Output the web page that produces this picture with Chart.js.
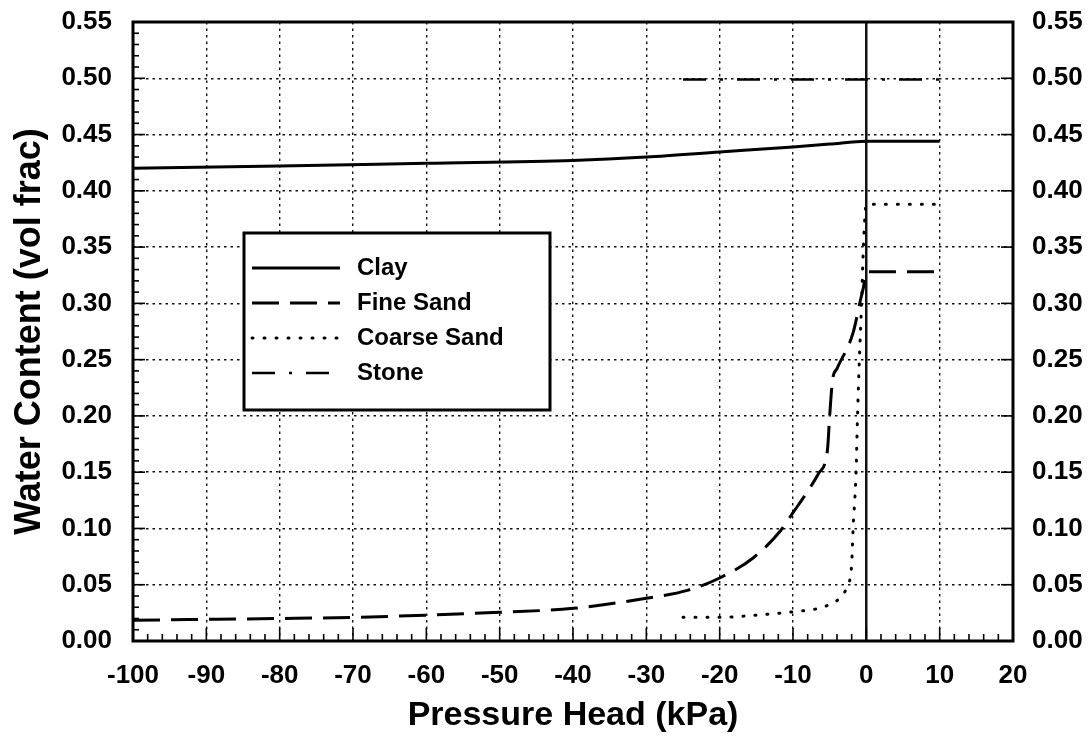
<!DOCTYPE html>
<html>
<head>
<meta charset="utf-8">
<script src="https://cdn.jsdelivr.net/npm/chart.js@4.4.1/dist/chart.umd.min.js"></script>
<style>
  html, body { margin: 0; padding: 0; background: #fff; }
  canvas { display: block; }
</style>
</head>
<body>
<canvas id="c" width="1092" height="746"></canvas>
<script>
// Axis tick values
const xTickValues = [-100, -90, -80, -70, -60, -50, -40, -30, -20, -10, 0, 10, 20];
const yTickValues = [0, 0.05, 0.10, 0.15, 0.20, 0.25, 0.30, 0.35, 0.40, 0.45, 0.50, 0.55];

// Retention curves: pressure head (kPa) vs water content (vol frac)
const clayHead  = [-100, -80, -60, -40, -30, -20, -10, -5, 0, 10];
const clayTheta = [0.420, 0.422, 0.4245, 0.427, 0.430, 0.4345, 0.439, 0.4415, 0.444, 0.444];

const fineHead  = [-100, -80, -70, -60, -50, -40, -30, -24.4, -20, -15.4, -11.7, -10, -7.6, -6.5, -5.3, -5.0, -4.6, -4.0, -1.8, -0.8, -0.4, 0, 10];
const fineTheta = [0.0185, 0.020, 0.021, 0.023, 0.0255, 0.029, 0.038, 0.045, 0.056, 0.074, 0.098, 0.114, 0.137, 0.149, 0.170, 0.200, 0.232, 0.242, 0.274, 0.303, 0.314, 0.328, 0.328];

const coarseHead  = [-25, -20, -15, -10, -6, -3.5, -2.6, -2.0, -1.8, -1.4, -1.2, -0.95, -0.65, -0.4, 0, 10];
const coarseTheta = [0.021, 0.021, 0.023, 0.026, 0.030, 0.039, 0.049, 0.068, 0.100, 0.150, 0.200, 0.250, 0.300, 0.350, 0.388, 0.388];

const stoneHead  = [-25, 0, 10];
const stoneTheta = [0.499, 0.499, 0.499];

const seriesLabels = ['Clay', 'Fine Sand', 'Coarse Sand', 'Stone'];

const toPoints = (xs, ys) => xs.map((x, i) => ({ x: x, y: ys[i] }));

Chart.defaults.font.family = "'Liberation Sans', Arial, Helvetica, sans-serif";
Chart.defaults.font.weight = 'bold';
Chart.defaults.color = '#000';

// Fixed scale boxes so the plot area sits at a set place
const fixBox = (w, h) => s => {
  if (w !== null) s.width = w;
  if (h !== null) s.height = h;
  s.paddingTop = 0; s.paddingBottom = 0; s.paddingLeft = 0; s.paddingRight = 0;
};

// Inward minor/major ticks, plot frame and boxed legend
const framePlugin = {
  id: 'frame',
  afterDatasetsDraw(chart) {
    const { ctx, chartArea: a, scales } = chart;
    const x = scales.x, y = scales.y, y2 = scales.y2;
    const seg = (x1, y1, x2, y2_) => { ctx.beginPath(); ctx.moveTo(x1, y1); ctx.lineTo(x2, y2_); ctx.stroke(); };
    ctx.save();
    ctx.strokeStyle = '#000';
    ctx.setLineDash([]);
    ctx.lineWidth = 1.6;
    for (let k = 0; k <= 55; k++) {
      const py = y.getPixelForValue(k / 100);
      seg(a.left, py, a.left + (k % 5 === 0 ? 12 : 6), py);
    }
    for (let v = -100; v <= 20; v += 2) {
      const px = x.getPixelForValue(v);
      seg(px, a.bottom, px, a.bottom - (v % 10 === 0 ? 13 : 7));
    }
    yTickValues.forEach(v => {
      const py = y2.getPixelForValue(v);
      seg(a.right - 12, py, a.right, py);
    });
    ctx.lineWidth = 3;
    ctx.strokeRect(a.left, a.top, a.right - a.left, a.bottom - a.top);

    // legend box
    const bx = a.left + 111, by = a.top + 211, bw = 306, bh = 177;
    ctx.fillStyle = '#fff';
    ctx.fillRect(bx, by, bw, bh);
    ctx.lineWidth = 3;
    ctx.strokeRect(bx, by, bw, bh);
    ctx.font = "bold 24px 'Liberation Sans', Arial, sans-serif";
    ctx.textBaseline = 'middle';
    ctx.textAlign = 'left';
    ctx.fillStyle = '#000';
    chart.data.datasets.forEach((ds, i) => {
      const ry = by + 35 + i * 35;
      ctx.save();
      ctx.strokeStyle = ds.borderColor;
      ctx.lineWidth = ds.borderWidth;
      ctx.lineCap = ds.borderCapStyle || 'butt';
      ctx.setLineDash(ds.borderDash || []);
      seg(bx + 8, ry, bx + 96, ry);
      ctx.restore();
      ctx.fillText(ds.label, bx + 113, ry);
    });
    ctx.restore();
  }
};

new Chart(document.getElementById('c'), {
  type: 'line',
  data: {
    datasets: [
      { label: seriesLabels[0], data: toPoints(clayHead, clayTheta), borderColor: '#000', borderWidth: 3,
        borderDash: [], cubicInterpolationMode: 'monotone' },
      { label: seriesLabels[1], data: toPoints(fineHead, fineTheta), borderColor: '#000', borderWidth: 3,
        borderDash: [27, 11], cubicInterpolationMode: 'monotone' },
      { label: seriesLabels[2], data: toPoints(coarseHead, coarseTheta), borderColor: '#000', borderWidth: 3,
        borderDash: [1, 11], borderCapStyle: 'round', cubicInterpolationMode: 'monotone' },
      { label: seriesLabels[3], data: toPoints(stoneHead, stoneTheta), borderColor: '#000', borderWidth: 2.5,
        borderDash: [23, 14, 3, 14] }
    ]
  },
  options: {
    responsive: false,
    animation: false,
    devicePixelRatio: 1,
    layout: { padding: { top: 22, left: 0, right: 0, bottom: 0 } },
    elements: { point: { radius: 0 } },
    plugins: { legend: { display: false }, tooltip: { enabled: false } },
    scales: {
      x: {
        type: 'linear', position: 'bottom', min: -100, max: 20,
        afterBuildTicks: s => { s.ticks = xTickValues.map(v => ({ value: v })); },
        afterFit: fixBox(null, 105),
        grid: {
          drawTicks: false,
          color: '#111',
          lineWidth: c => (c.tick && c.tick.value === 0) ? 2.5 : 1.4
        },
        border: { display: false, dash: c => (c.tick && c.tick.value === 0) ? [] : [2.5, 4] },
        ticks: { padding: 19, autoSkip: false, maxRotation: 0, color: '#000',
                 font: { size: 26, weight: 'bold' }, callback: v => String(v) },
        title: { display: true, text: 'Pressure Head (kPa)', color: '#000',
                 font: { size: 34, weight: 'bold' }, padding: { top: 0, bottom: 10 } }
      },
      y: {
        type: 'linear', position: 'left', min: 0, max: 0.55,
        afterBuildTicks: s => { s.ticks = yTickValues.map(v => ({ value: v })); },
        afterFit: fixBox(133, null),
        grid: { drawTicks: false, color: '#111', lineWidth: 1.4 },
        border: { display: false, dash: [2.5, 4] },
        ticks: { padding: 21, color: '#000', font: { size: 26, weight: 'bold' }, callback: v => Number(v).toFixed(2) },
        title: { display: true, text: 'Water Content (vol frac)', color: '#000',
                 font: { size: 36, weight: 'bold' }, padding: { top: 8, bottom: 0 } }
      },
      y2: {
        type: 'linear', position: 'right', min: 0, max: 0.55,
        afterBuildTicks: s => { s.ticks = yTickValues.map(v => ({ value: v })); },
        afterFit: fixBox(79, null),
        grid: { display: false, drawTicks: false },
        border: { display: false },
        ticks: { padding: 19, color: '#000', font: { size: 26, weight: 'bold' }, callback: v => Number(v).toFixed(2) }
      }
    }
  },
  plugins: [framePlugin]
});
</script>
</body>
</html>
